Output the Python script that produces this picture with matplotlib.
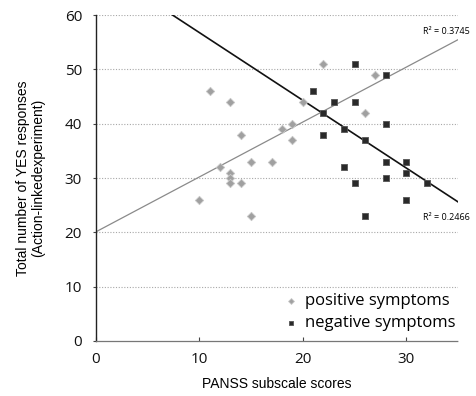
import numpy as np
import matplotlib
matplotlib.use("Agg")
import matplotlib.pyplot as plt

# positive symptoms (grey diamonds)
pos_x = [10, 11, 12, 13, 13, 13, 13, 14, 14, 15, 15, 17, 18, 19, 19, 20, 22, 26, 27]
pos_y = [26, 46, 32, 44, 31, 30, 29, 38, 29, 33, 23, 33, 39, 40, 37, 44, 51, 42, 49]

# negative symptoms (dark squares)
neg_x = [21, 22, 22, 23, 24, 24, 25, 25, 25, 26, 26, 28, 28, 28, 28, 30, 30, 30, 32]
neg_y = [46, 42, 38, 44, 39, 32, 51, 44, 29, 37, 23, 49, 40, 33, 30, 33, 31, 26, 29]

r2_labels = ["R\u00b2 = 0.3745", "R\u00b2 = 0.2466"]
y_ticks = [0, 10, 20, 30, 40, 50, 60]
x_ticks = [0, 10, 20, 30]


def fit(x, y):
    k, b = np.polyfit(x, y, 1)
    return k, b


fig = plt.figure(figsize=(4.76, 3.96), dpi=100)
ax = fig.add_axes([0.2017, 0.1389, 0.7603, 0.8232])

ax.set_xlim(0, 35)
ax.set_ylim(0, 60)

for v in y_ticks[1:]:
    ax.axhline(v, color="#a8a8a8", lw=0.8, ls=(0, (1, 1.5)), zorder=0)

xs = np.array([0, 35])
k, b = fit(pos_x, pos_y)
ax.plot(xs, k * xs + b, color="#8a8a8a", lw=0.9, zorder=1)
k2, b2 = fit(neg_x, neg_y)
ax.plot(xs, k2 * xs + b2, color="#111111", lw=1.2, zorder=1)

ax.scatter(pos_x, pos_y, marker="D", s=18, color="#a0a0a0",
           edgecolors="#c8c8c8", linewidths=0.6, zorder=3, label="positive symptoms")
ax.scatter(neg_x, neg_y, marker="s", s=20, color="#2a2a2a",
           edgecolors="#555555", linewidths=0.6, zorder=3, label="negative symptoms")

ax.text(470 / 476, 1 - 31 / 396, r2_labels[0], transform=fig.transFigure,
        ha="right", va="center", fontsize=6.5, family="Open Sans")
ax.text(470 / 476, 1 - 217 / 396, r2_labels[1], transform=fig.transFigure,
        ha="right", va="center", fontsize=6.5, family="Open Sans")

for s in ["top", "right"]:
    ax.spines[s].set_visible(False)
ax.spines["left"].set_color("#222222")
ax.spines["left"].set_linewidth(1.0)
ax.spines["bottom"].set_color("#777777")
ax.spines["bottom"].set_linewidth(0.9)
ax.spines["bottom"].set_linestyle((0, (1, 1)))

ax.set_xticks(x_ticks)
ax.set_yticks(y_ticks)
ax.tick_params(axis="x", direction="in", length=3, pad=8, labelsize=11, color="#444444")
ax.tick_params(axis="y", direction="out", length=2, pad=8, labelsize=11, color="#444444")
for lab in ax.get_xticklabels() + ax.get_yticklabels():
    lab.set_family("Open Sans")
    lab.set_color("#111111")

ax.set_xlabel("PANSS subscale scores", fontsize=10, family="Liberation Sans", labelpad=7)
ax.set_ylabel("Total number of YES responses\n(Action-linkedexperiment)", fontsize=10,
              family="Liberation Sans", labelpad=14, linespacing=1.1)

leg = ax.legend(loc="lower right", bbox_to_anchor=(1.02, 0.0), frameon=False,
                prop={"family": "Open Sans", "size": 12}, handletextpad=0.3,
                markerscale=0.7, handlelength=1.0, labelspacing=0.35, borderaxespad=0.2)

fig.savefig("out.png", dpi=100)
